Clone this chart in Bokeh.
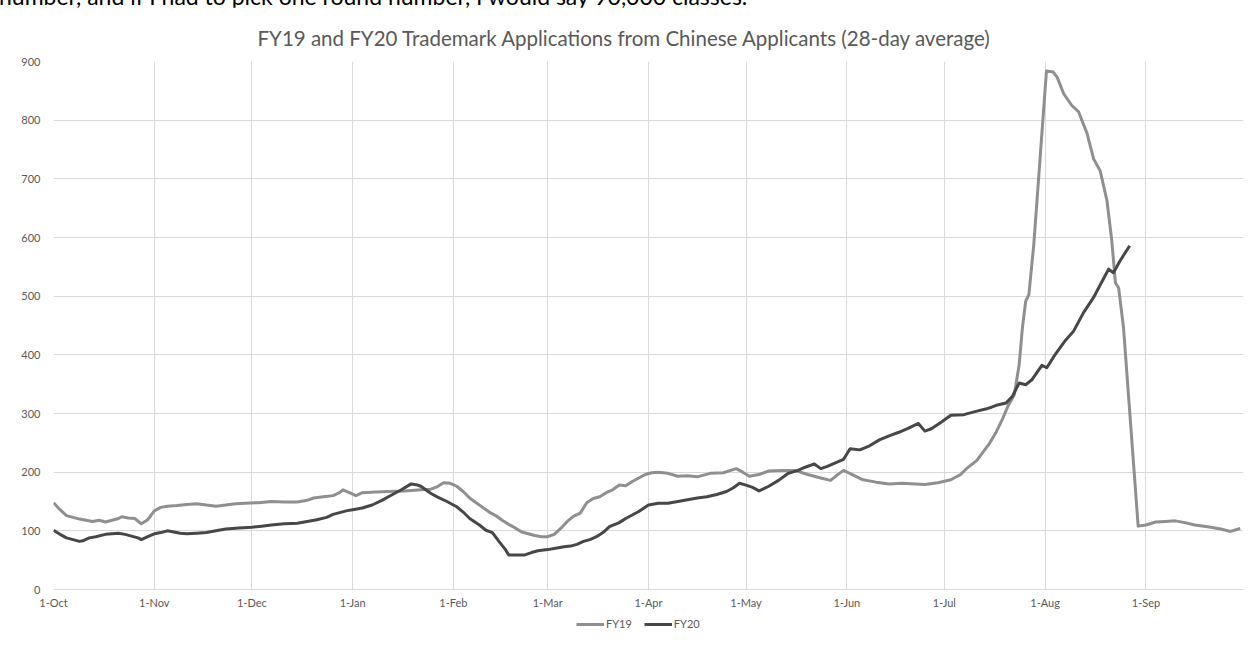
from bokeh.plotting import figure
from bokeh.models import FixedTicker, Legend, LegendItem, Div, Range1d
from bokeh.layouts import column
from bokeh.embed import file_html
from bokeh.resources import INLINE

# ---------------- data ----------------
month_labels = ["1-Oct", "1-Nov", "1-Dec", "1-Jan", "1-Feb", "1-Mar",
                "1-Apr", "1-May", "1-Jun", "1-Jul", "1-Aug", "1-Sep"]
month_days = [0, 31, 61, 92, 123, 152, 183, 213, 244, 274, 305, 336]
year_end_day = 366
y_ticks = [0, 100, 200, 300, 400, 500, 600, 700, 800, 900]

fy19_day = [0, 2, 4, 6, 8, 10, 12, 14, 16, 18, 20, 21, 23, 25, 27, 29, 31, 33, 35, 38,
            41, 44, 47, 50, 53, 56, 59, 63, 67, 71, 75, 78, 80, 83, 86, 88, 89, 91, 93, 95,
            99, 103, 108, 113, 116, 118, 120, 122, 124, 126, 128, 130, 132, 134, 136, 138, 140, 142, 144, 146,
            148, 150, 152, 154, 156, 158, 160, 162, 164, 166, 168, 170, 172, 174, 176, 178, 180, 182, 184, 186,
            189, 192, 195, 198, 202, 206, 210, 212, 214, 217, 220, 224, 228, 232, 236, 239, 241, 243, 246, 249,
            253, 257, 261, 265, 268, 272, 276, 279, 281, 284, 286, 288, 290, 292, 293.5, 295.5, 297, 298, 299, 300,
            301.5, 303, 304.5, 305.4, 307.5, 308.7, 310.7, 313.2, 315.3, 317.9, 319.9, 321.9, 324, 325.5, 326.6, 327.6, 329.1, 333.6, 336, 339,
            342, 345, 348, 351, 355, 359, 362, 365]
fy19_val = [148, 136, 126, 123, 120, 118, 116, 118, 115, 118, 121, 124, 122, 121, 112, 119, 134, 140, 142, 143,
            145, 146, 144, 142, 144, 146, 147, 148, 150, 149, 149, 152, 156, 158, 160, 165, 170, 165, 160, 165,
            166, 167, 168, 170, 171, 175, 182, 181, 176, 167, 156, 148, 140, 132, 126, 118, 111, 105, 98, 95,
            92, 90, 90, 94, 104, 116, 125, 130, 148, 155, 158, 165, 170, 178, 177, 184, 190, 196, 199, 200,
            198, 193, 194, 192, 198, 199, 206, 200, 193, 196, 202, 203, 203, 196, 190, 186, 195, 203, 195, 187,
            183, 180, 181, 180, 179, 182, 187, 196, 207, 220, 235, 250, 269, 292, 312, 332, 383, 446, 491, 503,
            588, 702, 816, 884, 882, 873, 845, 825, 814, 777, 734, 714, 663, 594, 523, 514, 446, 108, 110, 115,
            116, 117, 114, 110, 107, 103, 99, 104]

fy20_day = [0, 2, 4, 6, 8, 9, 11, 13, 16, 18, 20, 22, 24, 26, 27, 29, 31, 33, 35, 37,
            39, 41, 44, 47, 50, 53, 57, 61, 64, 67, 71, 75, 78, 81, 84, 86, 88, 90, 92, 95,
            98, 101, 104, 107, 110, 112, 113, 116, 118, 121, 124, 126, 128, 131, 133, 135, 137, 139, 140, 143,
            145, 147, 149, 152, 154, 157, 159, 161, 163, 165, 167, 169, 171, 174, 176, 178, 180, 183, 186, 189,
            192, 195, 198, 201, 204, 207, 209, 211, 213, 215, 217, 220, 223, 226, 229, 231, 234, 236, 238, 241,
            243, 245, 248, 251, 254, 257, 260, 263, 266, 268, 270, 273, 276, 280, 284, 287, 290, 293, 295, 297,
            299, 301, 304, 305.5, 308, 311, 313.7, 316.8, 319.8, 322, 324.5, 326, 328, 331]
fy20_val = [101, 94, 88, 85, 82, 83, 88, 90, 94, 95, 96, 94, 91, 88, 85, 90, 95, 97, 100, 98,
            96, 95, 96, 97, 100, 103, 105, 106, 108, 110, 112, 113, 116, 119, 123, 128, 131, 134, 136, 139,
            144, 152, 161, 170, 180, 178, 176, 164, 158, 150, 141, 132, 121, 110, 101, 97, 82, 68, 59, 59,
            59, 63, 66, 68, 70, 73, 74, 77, 82, 85, 90, 97, 107, 114, 121, 127, 133, 144, 147, 147,
            150, 153, 156, 158, 162, 167, 173, 181, 178, 174, 168, 176, 186, 198, 203, 208, 214, 206, 210, 217,
            222, 240, 238, 245, 255, 262, 268, 275, 283, 270, 274, 285, 297, 298, 304, 308, 314, 318, 330, 352,
            349, 358, 382, 378, 400, 423, 440, 472, 497, 520, 546, 540, 560, 586]

# ---------------- styling ----------------
FONT = "Lato"
TXT = "#595959"
GRID = "#d9d9d9"
C19 = "#8f8f8f"
C20 = "#474747"

top_text = Div(
    text="number, and if I had to pick one round number, I would say 90,000 classes.",
    width=1246, height=22, margin=(-15, 0, 0, -1),
    styles={"font-family": "Lato", "font-size": "23px", "line-height": "22px",
            "color": "#000000", "white-space": "nowrap"},
)

p = figure(frame_width=1190, frame_height=528, output_backend="svg", toolbar_location=None,
           min_border_left=53, min_border_right=3, min_border_top=54, min_border_bottom=22,
           x_range=Range1d(0, year_end_day), y_range=Range1d(0, 900))

p.title.text = "FY19 and FY20 Trademark Applications from Chinese Applicants (28-day average)"
p.title.align = "left"
p.title.offset = 204
p.title.standoff = 23
p.title.text_font = FONT
p.title.text_font_size = "20.5px"
p.title.text_font_style = "normal"
p.title.text_color = TXT

p.outline_line_color = None
p.background_fill_color = "white"
p.border_fill_color = "white"

p.line(fy19_day, fy19_val, line_color=C19, line_width=3, line_join="round")
p.line(fy20_day, fy20_val, line_color=C20, line_width=3, line_join="round")

# axes
p.xaxis.ticker = FixedTicker(ticks=month_days)
p.xaxis.major_label_overrides = {d: lab for d, lab in zip(month_days, month_labels)}
p.yaxis.ticker = FixedTicker(ticks=y_ticks)
for ax in (p.xaxis[0], p.yaxis[0]):
    ax.major_tick_line_color = None
    ax.minor_tick_line_color = None
    ax.major_label_text_font = FONT
    ax.major_label_text_font_size = "11px"
    ax.major_label_text_color = TXT
p.xaxis.axis_line_color = GRID
p.xaxis.major_label_standoff = 0
p.yaxis.axis_line_color = None
p.yaxis.major_label_standoff = 7

p.xgrid.ticker = FixedTicker(ticks=month_days + [year_end_day])
p.xgrid.grid_line_color = GRID
p.ygrid.ticker = FixedTicker(ticks=y_ticks)
p.ygrid.grid_line_color = GRID

# ---------------- legend strip (separate figure under the chart) ----------------
lg = figure(width=1246, height=24, output_backend="svg", toolbar_location=None,
            x_axis_type=None, y_axis_type=None,
            x_range=Range1d(0, 1), y_range=Range1d(0, 1),
            min_border_left=0, min_border_right=0, min_border_top=0, min_border_bottom=0)
lg.outline_line_color = None
lg.xgrid.visible = False
lg.ygrid.visible = False
# same series, drawn outside this strip's visible range, only to feed the legend
k19 = lg.line(fy19_day, fy19_val, line_color=C19, line_width=3)
k20 = lg.line(fy20_day, fy20_val, line_color=C20, line_width=3)
legend = Legend(items=[LegendItem(label="FY19", renderers=[k19]),
                       LegendItem(label="FY20", renderers=[k20])],
                orientation="horizontal", location=(523, 5),
                label_text_font=FONT, label_text_font_size="11px", label_text_color=TXT,
                glyph_width=28, glyph_height=10, label_standoff=2, spacing=12,
                padding=2, margin=0, border_line_color=None, background_fill_alpha=0)
lg.add_layout(legend, "center")

layout = column(top_text, p, lg, spacing=0)
open("out.html", "w").write(file_html(layout, INLINE))
